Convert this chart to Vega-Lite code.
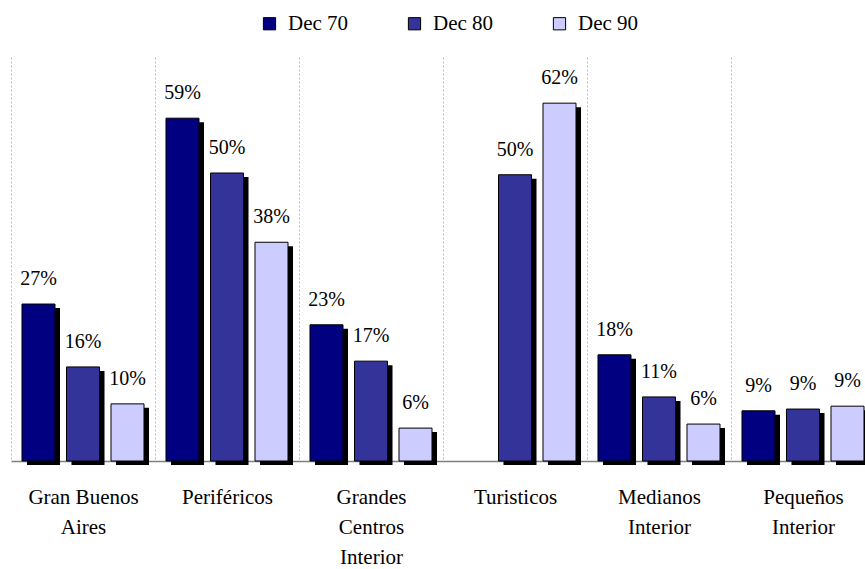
{
  "$schema": "https://vega.github.io/schema/vega-lite/v6.json",
  "autosize": "none",
  "width": 853,
  "height": 404,
  "padding": {"left": 11, "top": 57, "right": 1, "bottom": 108},
  "background": "white",
  "config": {"view": {"stroke": null}, "font": "'Liberation Serif', 'DejaVu Serif', serif"},
  "data": {"values": [
    {"cat": "Gran Buenos Aires", "serie": "Dec 70", "value": 27.2, "label": "27%"},
    {"cat": "Gran Buenos Aires", "serie": "Dec 80", "value": 16.3, "label": "16%"},
    {"cat": "Gran Buenos Aires", "serie": "Dec 90", "value": 9.9, "label": "10%"},
    {"cat": "Periféricos", "serie": "Dec 70", "value": 59.4, "label": "59%"},
    {"cat": "Periféricos", "serie": "Dec 80", "value": 49.9, "label": "50%"},
    {"cat": "Periféricos", "serie": "Dec 90", "value": 37.9, "label": "38%"},
    {"cat": "Grandes Centros Interior", "serie": "Dec 70", "value": 23.6, "label": "23%"},
    {"cat": "Grandes Centros Interior", "serie": "Dec 80", "value": 17.3, "label": "17%"},
    {"cat": "Grandes Centros Interior", "serie": "Dec 90", "value": 5.7, "label": "6%"},
    {"cat": "Turisticos", "serie": "Dec 70", "value": null, "label": ""},
    {"cat": "Turisticos", "serie": "Dec 80", "value": 49.6, "label": "50%"},
    {"cat": "Turisticos", "serie": "Dec 90", "value": 62.0, "label": "62%"},
    {"cat": "Medianos Interior", "serie": "Dec 70", "value": 18.4, "label": "18%"},
    {"cat": "Medianos Interior", "serie": "Dec 80", "value": 11.1, "label": "11%"},
    {"cat": "Medianos Interior", "serie": "Dec 90", "value": 6.4, "label": "6%"},
    {"cat": "Pequeños Interior", "serie": "Dec 70", "value": 8.7, "label": "9%"},
    {"cat": "Pequeños Interior", "serie": "Dec 80", "value": 9.0, "label": "9%"},
    {"cat": "Pequeños Interior", "serie": "Dec 90", "value": 9.5, "label": "9%"}
  ]},
  "encoding": {
    "x": {
      "field": "cat", "type": "nominal", "sort": null,
      "scale": {"range": [0, 864], "paddingInner": 0, "paddingOuter": 0},
      "axis": {
        "title": null, "labelAngle": 0, "ticks": false, "grid": true, "tickBand": "extent",
        "gridDash": [2, 2], "gridColor": "#bbbbbb", "gridWidth": 1,
        "domainColor": "#808080", "domainWidth": 1.5,
        "labelFont": "'Liberation Serif', 'DejaVu Serif', serif", "labelFontSize": 21, "labelColor": "black",
        "labelBaseline": "top", "labelPadding": 25, "labelLineHeight": 30,
        "labelExpr": "datum.label == 'Gran Buenos Aires' ? ['Gran Buenos','Aires'] : split(datum.label, ' ')"
      }
    },
    "y": {"field": "value", "type": "quantitative", "scale": {"domain": [0, 70]}, "axis": null}
  },
  "resolve": {"scale": {"xOffset": "independent"}},
  "layer": [
    {
      "mark": {"type": "bar", "color": "black", "yOffset": 4, "y2Offset": 2},
      "encoding": {
        "xOffset": {"field": "serie", "type": "nominal", "scale": {"type": "band", "range": [5, 149], "paddingInner": 0.258, "paddingOuter": 0.247}}
      }
    },
    {
      "mark": {"type": "bar", "stroke": "black", "strokeWidth": 1},
      "encoding": {
        "xOffset": {"field": "serie", "type": "nominal", "scale": {"type": "band", "range": [0, 144], "paddingInner": 0.258, "paddingOuter": 0.247}},
        "fill": {
          "field": "serie", "type": "nominal",
          "scale": {"domain": ["Dec 70", "Dec 80", "Dec 90"], "range": ["#000080", "#333399", "#ccccff"]},
          "legend": {
            "title": null, "orient": "none", "direction": "horizontal", "columns": 3,
            "legendX": 248, "legendY": -44,
            "symbolType": "square", "symbolSize": 150, "symbolStrokeColor": "black", "symbolStrokeWidth": 1,
            "labelFont": "'Liberation Serif', 'DejaVu Serif', serif", "labelFontSize": 21, "labelColor": "black",
            "labelOffset": 8, "columnPadding": 55
          }
        }
      }
    },
    {
      "transform": [{"filter": "datum.value != null"}],
      "mark": {"type": "text", "baseline": "alphabetic", "dy": -19, "font": "'Liberation Serif', 'DejaVu Serif', serif", "fontSize": 20, "color": "black"},
      "encoding": {
        "xOffset": {"field": "serie", "type": "nominal", "scale": {"type": "band", "range": [0, 144], "paddingInner": 0.258, "paddingOuter": 0.247}},
        "text": {"field": "label"}
      }
    }
  ]
}
